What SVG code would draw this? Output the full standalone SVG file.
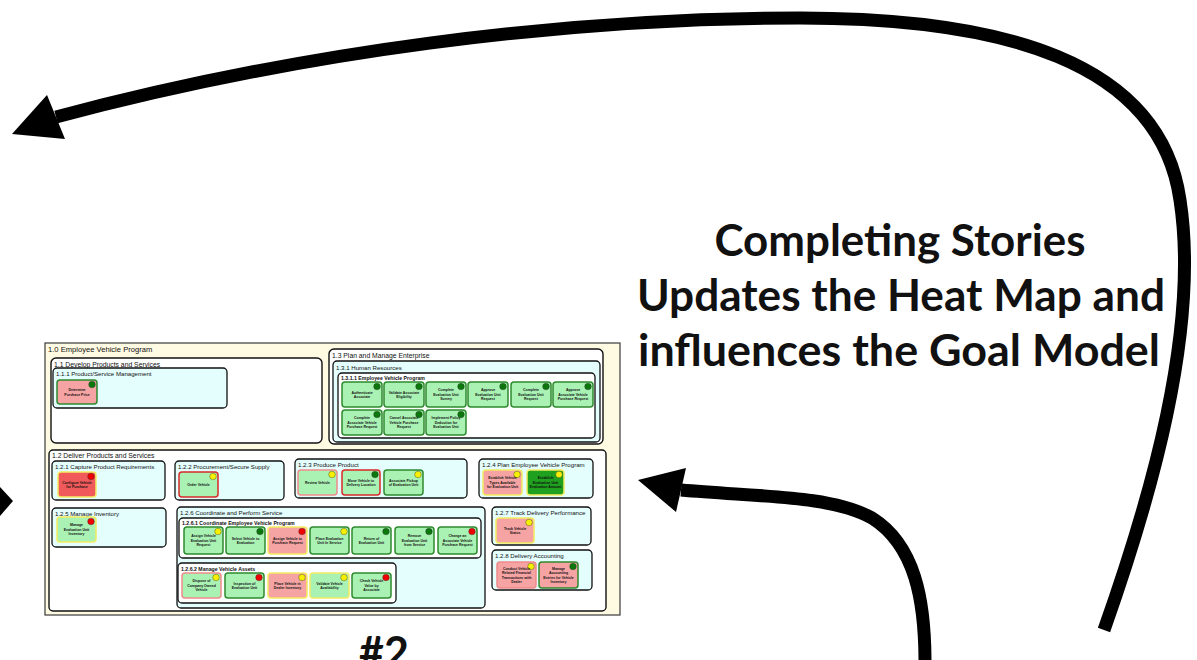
<svg xmlns="http://www.w3.org/2000/svg" width="1197" height="660" viewBox="0 0 1197 660">
  <defs>
    <style>
      .bg { fill: #ffffff; }
      .frame { fill: #fffbe3; stroke: #3a3a3a; stroke-width: 1.2; }
      .box { fill: #ffffff; stroke: #111; stroke-width: 1.4; }
      .cyan { fill: #e4fdfd; stroke: #111; stroke-width: 1.3; }
      .sub { fill: #ffffff; stroke: #111; stroke-width: 1.3; }
      .h0 { font-family: "Liberation Sans", Arial, sans-serif; font-size: 7.6px; fill: #111; }
      .h1 { font-family: "Liberation Sans", Arial, sans-serif; font-size: 6.8px; fill: #111; }
      .h2 { font-family: "Liberation Sans", Arial, sans-serif; font-size: 6.1px; fill: #111; }
      .h3 { font-family: "Liberation Sans", Arial, sans-serif; font-size: 5.2px; fill: #111; font-weight: bold; }
      .tl { font-family: "Liberation Sans", Arial, sans-serif; font-size: 3.5px; font-weight: bold; fill: #111; text-anchor: middle; }
      .t { stroke-width: 1.5; }
      .lg { fill: #aaf2b4; }
      .pk { fill: #f6a3a3; }
      .rd { fill: #f05a5a; }
      .dg { fill: #1fa01f; }
      .sg { stroke: #2e8b2e; }
      .sy { stroke: #f4ec62; }
      .sr { stroke: #d82a2a; }
      .ss { stroke: #f08a8a; }
      .dot { stroke: #333; stroke-width: 0.4; }
      .dG { fill: #0b780b; }
      .dY { fill: #f6f000; }
      .dR { fill: #f00000; }
      .big { font-family: Lato, "Open Sans", "Liberation Sans", sans-serif; font-weight: bold; font-size: 43px; fill: #111; text-anchor: middle; }
      .shaft { fill: none; stroke: #000; stroke-width: 13; }
      .head { fill: #000; }
    </style>
  </defs>

  <rect class="bg" x="0" y="0" width="1197" height="660"/>

  <!-- 1.0 outer program frame -->
  <g id="n1_0">
    <rect class="frame" x="45" y="343" width="575" height="272"/>
    <text class="h0" x="48" y="352">1.0 Employee Vehicle Program</text>
  </g>

  <!-- 1.1 Develop Products and Services -->
  <g id="n1_1">
    <rect class="box" x="51" y="358" width="271" height="85" rx="5"/>
    <text class="h1" x="54" y="366.5">1.1 Develop Products and Services</text>
  </g>
  <g id="n1_1_1">
    <rect class="cyan" x="53" y="368" width="174" height="40" rx="4"/>
    <text class="h2" x="56" y="376">1.1.1 Product/Service Management</text>
  </g>
  <g id="t_determine_price">
    <rect class="t pk sg" x="57" y="380" width="40" height="24" rx="3"/>
    <circle class="dot dG" cx="92" cy="384.5" r="3.3"/>
    <text class="tl" x="77" y="391.1">Determine<tspan x="77" dy="4.4">Purchase Price</tspan></text>
  </g>

  <!-- 1.3 Plan and Manage Enterprise -->
  <g id="n1_3">
    <rect class="box" x="329" y="349" width="274" height="95" rx="5"/>
    <text class="h1" x="332" y="357.5">1.3 Plan and Manage Enterprise</text>
  </g>
  <g id="n1_3_1">
    <rect class="cyan" x="333" y="361" width="267" height="81" rx="4"/>
    <text class="h2" x="336" y="369.5">1.3.1 Human Resources</text>
  </g>
  <g id="n1_3_1_1">
    <rect class="sub" x="338" y="373" width="257" height="65" rx="4"/>
    <text class="h3" x="341" y="379.8">1.3.1.1 Employee Vehicle Program</text>
  </g>
  <g id="t_authenticate">
    <rect class="t lg sg" x="342" y="382" width="40" height="25" rx="3"/>
    <circle class="dot dG" cx="377" cy="386.5" r="3.3"/>
    <text class="tl" x="362" y="393.6">Authenticate<tspan x="362" dy="4.4">Associate</tspan></text>
  </g>
  <g id="t_validate_eligibility">
    <rect class="t lg sg" x="384" y="382" width="40" height="25" rx="3"/>
    <circle class="dot dG" cx="419" cy="386.5" r="3.3"/>
    <text class="tl" x="404" y="393.6">Validate Associate<tspan x="404" dy="4.4">Eligibility</tspan></text>
  </g>
  <g id="t_complete_survey">
    <rect class="t lg sg" x="426" y="382" width="40" height="25" rx="3"/>
    <circle class="dot dG" cx="461" cy="386.5" r="3.3"/>
    <text class="tl" x="446" y="391.4">Complete<tspan x="446" dy="4.4">Evaluation Unit</tspan><tspan x="446" dy="4.4">Survey</tspan></text>
  </g>
  <g id="t_approve_eval_request">
    <rect class="t lg sg" x="468" y="382" width="40" height="25" rx="3"/>
    <circle class="dot dG" cx="503" cy="386.5" r="3.3"/>
    <text class="tl" x="488" y="391.4">Approve<tspan x="488" dy="4.4">Evaluation Unit</tspan><tspan x="488" dy="4.4">Request</tspan></text>
  </g>
  <g id="t_complete_eval_request">
    <rect class="t lg sg" x="511" y="382" width="40" height="25" rx="3"/>
    <circle class="dot dG" cx="546" cy="386.5" r="3.3"/>
    <text class="tl" x="531" y="391.4">Complete<tspan x="531" dy="4.4">Evaluation Unit</tspan><tspan x="531" dy="4.4">Request</tspan></text>
  </g>
  <g id="t_approve_purchase_request">
    <rect class="t lg sg" x="553" y="382" width="40" height="25" rx="3"/>
    <circle class="dot dG" cx="588" cy="386.5" r="3.3"/>
    <text class="tl" x="573" y="391.4">Approve<tspan x="573" dy="4.4">Associate Vehicle</tspan><tspan x="573" dy="4.4">Purchase Request</tspan></text>
  </g>
  <g id="t_complete_purchase_request">
    <rect class="t lg sg" x="342" y="410" width="40" height="25" rx="3"/>
    <circle class="dot dG" cx="377" cy="414.5" r="3.3"/>
    <text class="tl" x="362" y="419.4">Complete<tspan x="362" dy="4.4">Associate Vehicle</tspan><tspan x="362" dy="4.4">Purchase Request</tspan></text>
  </g>
  <g id="t_cancel_purchase_request">
    <rect class="t lg sg" x="384" y="410" width="40" height="25" rx="3"/>
    <circle class="dot dG" cx="419" cy="414.5" r="3.3"/>
    <text class="tl" x="404" y="419.4">Cancel Associate<tspan x="404" dy="4.4">Vehicle Purchase</tspan><tspan x="404" dy="4.4">Request</tspan></text>
  </g>
  <g id="t_implement_policy">
    <rect class="t lg sg" x="426" y="410" width="40" height="25" rx="3"/>
    <circle class="dot dG" cx="461" cy="414.5" r="3.3"/>
    <text class="tl" x="446" y="419.4">Implement Policy<tspan x="446" dy="4.4">Deduction for</tspan><tspan x="446" dy="4.4">Evaluation Unit</tspan></text>
  </g>

  <!-- 1.2 Deliver Products and Services -->
  <g id="n1_2">
    <rect class="box" x="49" y="450" width="557" height="161" rx="4"/>
    <text class="h1" x="52" y="457.5">1.2 Deliver Products and Services</text>
  </g>

  <g id="n1_2_1">
    <rect class="cyan" x="52" y="461" width="113" height="39" rx="4"/>
    <text class="h2" x="55" y="469">1.2.1 Capture Product Requirements</text>
  </g>
  <g id="t_configure_vehicle">
    <rect class="t rd sy" x="58" y="472" width="38" height="25" rx="3"/>
    <circle class="dot dR" cx="91" cy="476.5" r="3.3"/>
    <text class="tl" x="77" y="483.6">Configure Vehicle<tspan x="77" dy="4.4">for Purchase</tspan></text>
  </g>

  <g id="n1_2_2">
    <rect class="cyan" x="175" y="461" width="109" height="39" rx="4"/>
    <text class="h2" x="178" y="469">1.2.2 Procurement/Secure Supply</text>
  </g>
  <g id="t_order_vehicle">
    <rect class="t lg sr" x="179" y="472" width="39" height="25" rx="3"/>
    <circle class="dot dY" cx="213" cy="476.5" r="3.3"/>
    <text class="tl" x="198.5" y="485.8">Order Vehicle</text>
  </g>

  <g id="n1_2_3">
    <rect class="cyan" x="295" y="459" width="172" height="39" rx="4"/>
    <text class="h2" x="298" y="466.5">1.2.3 Produce Product</text>
  </g>
  <g id="t_review_vehicle">
    <rect class="t lg ss" x="298" y="470" width="39" height="25" rx="3"/>
    <circle class="dot dY" cx="332" cy="474.5" r="3.3"/>
    <text class="tl" x="317.5" y="483.8">Review Vehicle</text>
  </g>
  <g id="t_move_vehicle">
    <rect class="t lg sr" x="342" y="470" width="38" height="25" rx="3"/>
    <circle class="dot dG" cx="375" cy="474.5" r="3.3"/>
    <text class="tl" x="361" y="481.6">Move Vehicle to<tspan x="361" dy="4.4">Delivery Location</tspan></text>
  </g>
  <g id="t_associate_pickup">
    <rect class="t lg sg" x="384" y="470" width="39" height="25" rx="3"/>
    <circle class="dot dY" cx="418" cy="474.5" r="3.3"/>
    <text class="tl" x="403.5" y="481.6">Associate Pickup<tspan x="403.5" dy="4.4">of Evaluation Unit</tspan></text>
  </g>

  <g id="n1_2_4">
    <rect class="cyan" x="479" y="459" width="114" height="39" rx="4"/>
    <text class="h2" x="482" y="466.5">1.2.4 Plan Employee Vehicle Program</text>
  </g>
  <g id="t_establish_types">
    <rect class="t pk sy" x="483" y="470" width="39" height="25" rx="3"/>
    <circle class="dot dY" cx="517" cy="474.5" r="3.3"/>
    <text class="tl" x="502.5" y="479.4">Establish Vehicle<tspan x="502.5" dy="4.4">Types Available</tspan><tspan x="502.5" dy="4.4">for Evaluation Unit</tspan></text>
  </g>
  <g id="t_establish_amount">
    <rect class="t dg sy" x="527" y="470" width="37" height="25" rx="3"/>
    <circle class="dot dY" cx="559" cy="474.5" r="3.3"/>
    <text class="tl" x="545.5" y="479.4">Establish<tspan x="545.5" dy="4.4">Evaluation Unit</tspan><tspan x="545.5" dy="4.4">Evaluation Amount</tspan></text>
  </g>

  <g id="n1_2_5">
    <rect class="cyan" x="52" y="508" width="114" height="39" rx="4"/>
    <text class="h2" x="55" y="516">1.2.5 Manage Inventory</text>
  </g>
  <g id="t_manage_inventory">
    <rect class="t lg sy" x="57" y="517" width="39" height="25" rx="3"/>
    <circle class="dot dR" cx="91" cy="521.5" r="3.3"/>
    <text class="tl" x="76.5" y="526.4">Manage<tspan x="76.5" dy="4.4">Evaluation Unit</tspan><tspan x="76.5" dy="4.4">Inventory</tspan></text>
  </g>

  <g id="n1_2_6">
    <rect class="cyan" x="177" y="507" width="308" height="101" rx="4"/>
    <text class="h2" x="180" y="514.5">1.2.6 Coordinate and Perform Service</text>
  </g>
  <g id="n1_2_6_1">
    <rect class="sub" x="179" y="518" width="302" height="40" rx="4"/>
    <text class="h3" x="182" y="524.5">1.2.6.1 Coordinate Employee Vehicle Program</text>
  </g>
  <g id="t_assign_eval_request">
    <rect class="t lg sg" x="184" y="527" width="39" height="27" rx="3"/>
    <circle class="dot dY" cx="218" cy="531.5" r="3.3"/>
    <text class="tl" x="203.5" y="537.4">Assign Vehicle<tspan x="203.5" dy="4.4">Evaluation Unit</tspan><tspan x="203.5" dy="4.4">Request</tspan></text>
  </g>
  <g id="t_select_vehicle">
    <rect class="t lg sg" x="226" y="527" width="39" height="27" rx="3"/>
    <circle class="dot dG" cx="260" cy="531.5" r="3.3"/>
    <text class="tl" x="245.5" y="539.6">Select Vehicle to<tspan x="245.5" dy="4.4">Evaluation</tspan></text>
  </g>
  <g id="t_assign_purchase_request">
    <rect class="t pk sy" x="268" y="527" width="39" height="27" rx="3"/>
    <circle class="dot dR" cx="302" cy="531.5" r="3.3"/>
    <text class="tl" x="287.5" y="539.6">Assign Vehicle to<tspan x="287.5" dy="4.4">Purchase Request</tspan></text>
  </g>
  <g id="t_place_in_service">
    <rect class="t lg sg" x="310" y="527" width="39" height="27" rx="3"/>
    <circle class="dot dY" cx="344" cy="531.5" r="3.3"/>
    <text class="tl" x="329.5" y="539.6">Place Evaluation<tspan x="329.5" dy="4.4">Unit In Service</tspan></text>
  </g>
  <g id="t_return_unit">
    <rect class="t lg sg" x="352" y="527" width="39" height="27" rx="3"/>
    <circle class="dot dG" cx="386" cy="531.5" r="3.3"/>
    <text class="tl" x="371.5" y="539.6">Return of<tspan x="371.5" dy="4.4">Evaluation Unit</tspan></text>
  </g>
  <g id="t_remove_from_service">
    <rect class="t lg sg" x="395" y="527" width="39" height="27" rx="3"/>
    <circle class="dot dG" cx="429" cy="531.5" r="3.3"/>
    <text class="tl" x="414.5" y="537.4">Remove<tspan x="414.5" dy="4.4">Evaluation Unit</tspan><tspan x="414.5" dy="4.4">from Service</tspan></text>
  </g>
  <g id="t_change_purchase_request">
    <rect class="t lg sg" x="438" y="527" width="39" height="27" rx="3"/>
    <circle class="dot dR" cx="472" cy="531.5" r="3.3"/>
    <text class="tl" x="457.5" y="537.4">Change an<tspan x="457.5" dy="4.4">Associate Vehicle</tspan><tspan x="457.5" dy="4.4">Purchase Request</tspan></text>
  </g>

  <g id="n1_2_6_2">
    <rect class="sub" x="178" y="563" width="218" height="40" rx="4"/>
    <text class="h3" x="181" y="570.5">1.2.6.2 Manage Vehicle Assets</text>
  </g>
  <g id="t_dispose_vehicle">
    <rect class="t lg ss" x="182" y="573" width="39" height="25" rx="3"/>
    <circle class="dot dY" cx="216" cy="577.5" r="3.3"/>
    <text class="tl" x="201.5" y="582.4">Dispose of<tspan x="201.5" dy="4.4">Company Owned</tspan><tspan x="201.5" dy="4.4">Vehicle</tspan></text>
  </g>
  <g id="t_inspection">
    <rect class="t lg sg" x="225" y="573" width="39" height="25" rx="3"/>
    <circle class="dot dR" cx="259" cy="577.5" r="3.3"/>
    <text class="tl" x="244.5" y="584.6">Inspection of<tspan x="244.5" dy="4.4">Evaluation Unit</tspan></text>
  </g>
  <g id="t_place_dealer_inventory">
    <rect class="t pk sy" x="268" y="573" width="39" height="25" rx="3"/>
    <circle class="dot dY" cx="302" cy="577.5" r="3.3"/>
    <text class="tl" x="287.5" y="584.6">Place Vehicle in<tspan x="287.5" dy="4.4">Dealer Inventory</tspan></text>
  </g>
  <g id="t_validate_availability">
    <rect class="t lg sy" x="310" y="573" width="39" height="25" rx="3"/>
    <circle class="dot dY" cx="344" cy="577.5" r="3.3"/>
    <text class="tl" x="329.5" y="584.6">Validate Vehicle<tspan x="329.5" dy="4.4">Availability</tspan></text>
  </g>
  <g id="t_check_value">
    <rect class="t lg sg" x="352" y="573" width="39" height="25" rx="3"/>
    <circle class="dot dR" cx="386" cy="577.5" r="3.3"/>
    <text class="tl" x="371.5" y="582.4">Check Vehicle<tspan x="371.5" dy="4.4">Value by</tspan><tspan x="371.5" dy="4.4">Associate</tspan></text>
  </g>

  <g id="n1_2_7">
    <rect class="cyan" x="492" y="507" width="99" height="38" rx="4"/>
    <text class="h2" x="495" y="515">1.2.7 Track Delivery Performance</text>
  </g>
  <g id="t_track_status">
    <rect class="t pk sy" x="496" y="518" width="38" height="25" rx="3"/>
    <circle class="dot dY" cx="529" cy="522.5" r="3.3"/>
    <text class="tl" x="515" y="529.6">Track Vehicle<tspan x="515" dy="4.4">Status</tspan></text>
  </g>

  <g id="n1_2_8">
    <rect class="cyan" x="492" y="550" width="100" height="40" rx="4"/>
    <text class="h2" x="495" y="558">1.2.8 Delivery Accounting</text>
  </g>
  <g id="t_conduct_transactions">
    <rect class="t pk ss" x="497" y="562" width="39" height="26" rx="3"/>
    <circle class="dot dY" cx="531" cy="566.5" r="3.3"/>
    <text class="tl" x="516.5" y="569.7">Conduct Vehicle<tspan x="516.5" dy="4.4">Related Financial</tspan><tspan x="516.5" dy="4.4">Transactions with</tspan><tspan x="516.5" dy="4.4">Dealer</tspan></text>
  </g>
  <g id="t_manage_accounting">
    <rect class="t pk sg" x="539" y="562" width="39" height="26" rx="3"/>
    <circle class="dot dG" cx="573" cy="566.5" r="3.3"/>
    <text class="tl" x="558.5" y="569.7">Manage<tspan x="558.5" dy="4.4">Accounting</tspan><tspan x="558.5" dy="4.4">Entries for Vehicle</tspan><tspan x="558.5" dy="4.4">Inventory</tspan></text>
  </g>

  <!-- caption -->
  <g id="caption">
    <text class="big" x="900" y="256" textLength="371" lengthAdjust="spacingAndGlyphs">Completing Stories</text>
    <text class="big" x="901" y="311" textLength="528" lengthAdjust="spacingAndGlyphs">Updates the Heat Map and</text>
    <text class="big" x="899" y="366" textLength="522" lengthAdjust="spacingAndGlyphs">influences the Goal Model</text>
  </g>
  <g id="label_2">
    <text class="big" x="384" y="668">#2</text>
  </g>

  <!-- flow arrows -->
  <g id="connectors">
    <path class="shaft" d="M1104,630 C1150,500 1200,330 1180,200 C1160,60 1000,18 800,18 C560,18 300,52 56,117"/>
    <polygon class="head" points="12,134 47,95 65,139"/>
    <path class="shaft" d="M925,662 C925,600 915,545 872,518 C830,495 760,497 681,490"/>
    <polygon class="head" points="638,480 686,468 676,512"/>
    <polygon class="head" points="0,487 13,501 0,516"/>
  </g>
</svg>
